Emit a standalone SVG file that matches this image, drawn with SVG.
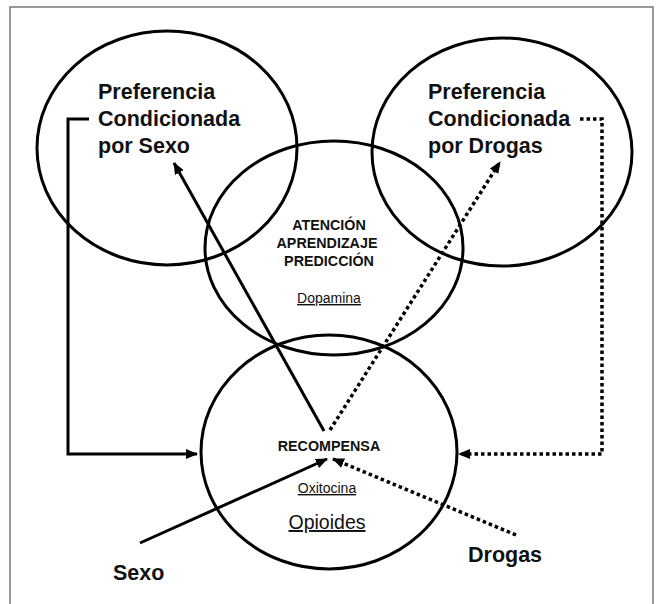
<svg xmlns="http://www.w3.org/2000/svg" width="657" height="604" viewBox="0 0 657 604">
<style>
.ring{fill:none;stroke:#000;stroke-width:3}
.t{font-family:"Liberation Sans",Arial,sans-serif;fill:#111}
.big{font-size:21.5px;font-weight:bold}
.mid{font-size:14.3px;font-weight:bold}
.u{text-decoration:underline}
.solid{fill:none;stroke:#000;stroke-width:3}
.dot{fill:none;stroke:#000;stroke-width:3.5;stroke-dasharray:3.5 3}
</style>
<defs>
<marker id="ah" markerWidth="12" markerHeight="10" refX="11" refY="5" orient="auto" markerUnits="userSpaceOnUse">
<path d="M0,0 L12,5 L0,10 Z" fill="#000"/>
</marker>
</defs>
<rect x="10" y="7" width="643" height="620" fill="#fff" stroke="#777" stroke-width="1.5"/>
<g id="sexo-pref">
<ellipse class="ring" cx="167" cy="148" rx="130" ry="117"/>
<text class="t big" x="98" y="99">Preferencia</text>
<text class="t big" x="98" y="126">Condicionada</text>
<text class="t big" x="98" y="153">por Sexo</text>
</g>
<g id="drogas-pref">
<ellipse class="ring" cx="502" cy="152" rx="130" ry="114"/>
<text class="t big" x="428" y="99">Preferencia</text>
<text class="t big" x="428" y="126">Condicionada</text>
<text class="t big" x="428" y="153">por Drogas</text>
</g>
<g id="atencion">
<ellipse class="ring" cx="334" cy="248" rx="129" ry="107"/>
<text class="t mid" x="329" y="230" text-anchor="middle">ATENCIÓN</text>
<text class="t mid" x="327" y="248" text-anchor="middle">APRENDIZAJE</text>
<text class="t mid" x="329" y="266" text-anchor="middle">PREDICCIÓN</text>
<text class="t u" x="329" y="303" text-anchor="middle" font-size="14">Dopamina</text>
</g>
<g id="recompensa">
<ellipse class="ring" cx="329" cy="452" rx="128" ry="117"/>
<text class="t mid" x="329" y="451" text-anchor="middle" font-size="15">RECOMPENSA</text>
<text class="t u" x="327" y="493" text-anchor="middle" font-size="14">Oxitocina</text>
<text class="t u" x="327" y="529" text-anchor="middle" font-size="19.5">Opioides</text>
</g>
<g id="sexo">
<text class="t big" x="113" y="580" font-size="18">Sexo</text>
</g>
<g id="drogas">
<text class="t big" x="468" y="562" font-size="18">Drogas</text>
</g>
<g id="connectors">
<line class="solid" x1="324" y1="431" x2="174" y2="163" marker-end="url(#ah)"/>
<line class="dot" x1="330" y1="430" x2="500" y2="162" marker-end="url(#ah)"/>
<polyline class="solid" points="89,119 68,119 68,454 197,454" marker-end="url(#ah)"/>
<polyline class="dot" points="580,119 602,119 602,454 459,454" marker-end="url(#ah)"/>
<line class="solid" x1="140" y1="543" x2="327" y2="459" marker-end="url(#ah)"/>
<line class="dot" x1="516" y1="535" x2="333" y2="459" marker-end="url(#ah)"/>
</g>
</svg>
